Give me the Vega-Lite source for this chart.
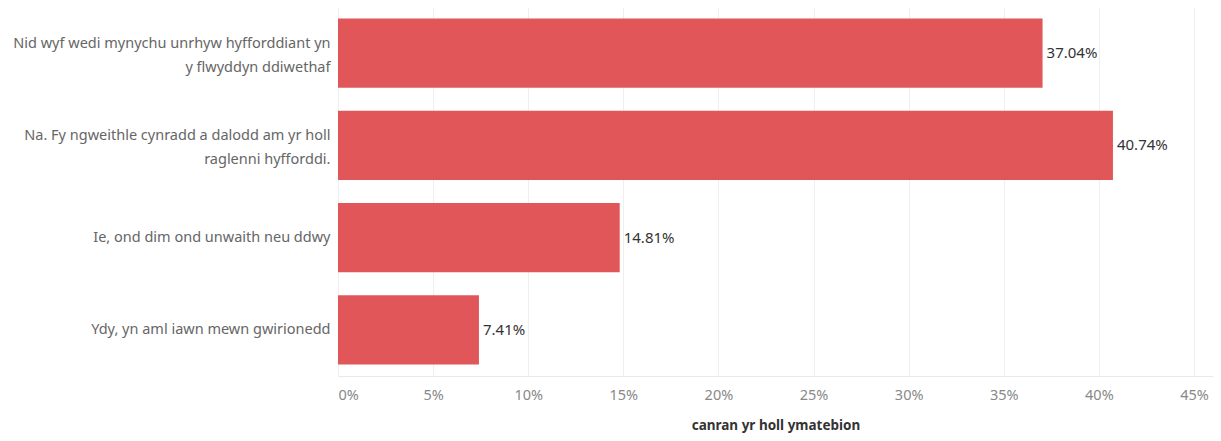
{
  "$schema": "https://vega.github.io/schema/vega-lite/v6.json",
  "autosize": "none",
  "width": 875,
  "height": 369,
  "padding": {"left": 338, "top": 7, "right": 8, "bottom": 65},
  "background": "white",
  "config": {"view": {"stroke": null}, "font": "Noto Sans"},
  "data": {"values": [
    {"answer": "Nid wyf wedi mynychu unrhyw hyfforddiant yn|y flwyddyn ddiwethaf", "pct": 0.3704, "order": 1},
    {"answer": "Na. Fy ngweithle cynradd a dalodd am yr holl|raglenni hyfforddi.", "pct": 0.4074, "order": 2},
    {"answer": "Ie, ond dim ond unwaith neu ddwy", "pct": 0.1481, "order": 3},
    {"answer": "Ydy, yn aml iawn mewn gwirionedd", "pct": 0.0741, "order": 4}
  ]},
  "encoding": {
    "y": {
      "field": "answer", "type": "nominal",
      "sort": {"field": "order"},
      "scale": {"paddingInner": 0.25, "paddingOuter": 0.125},
      "axis": {
        "title": null, "domain": false, "ticks": false, "labelPadding": 8,
        "labelFontSize": 14.5, "labelColor": "#666666", "labelLimit": 400,
        "labelLineHeight": 24,
        "labelOffset": {"condition": {"test": "indexof(datum.label, '|') >= 0", "value": -9}, "value": 0},
        "labelExpr": "split(datum.label, '|')"
      }
    },
    "x": {
      "field": "pct", "type": "quantitative",
      "scale": {"domain": [0, 0.46], "nice": false},
      "axis": {
        "title": "canran yr holl ymatebion", "format": ".0%",
        "values": [0, 0.05, 0.1, 0.15, 0.2, 0.25, 0.3, 0.35, 0.4, 0.45],
        "grid": true, "gridColor": "#efefef", "ticks": false,
        "domain": true, "domainColor": "#e8e8e8",
        "labelFontSize": 14.5, "labelColor": "#888888", "labelPadding": 12,
        "titleFontSize": 13.5, "titleFontWeight": "bold", "titleColor": "#333333",
        "titlePadding": 17
      }
    }
  },
  "layer": [
    {"mark": {"type": "bar", "color": "#E15759"}},
    {"mark": {"type": "text", "align": "left", "dx": 4, "fontSize": 15, "color": "#333333"},
     "encoding": {"text": {"field": "pct", "type": "quantitative", "format": ".2%"}}}
  ]
}
